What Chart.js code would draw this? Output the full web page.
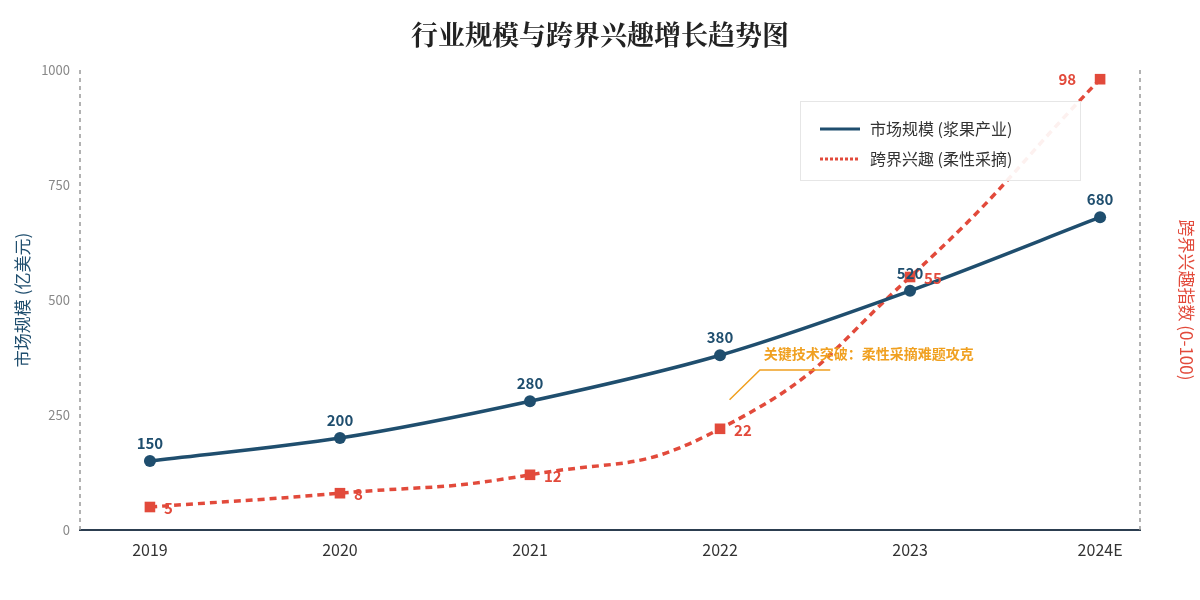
<!DOCTYPE html>
<html>
<head>
<meta charset="utf-8">
<script src="https://cdn.jsdelivr.net/npm/chart.js@4"></script>
<style>
  html, body { margin: 0; padding: 0; background: #fff; }
  #wrap { width: 1200px; height: 600px; }
</style>
</head>
<body>
<div id="wrap"><canvas id="chart" width="1200" height="600"></canvas></div>
<script>
var years = ["2019", "2020", "2021", "2022", "2023", "2024E"];
var marketSize = [150, 200, 280, 380, 520, 680];
var crossInterest = [5, 8, 12, 22, 55, 98];
var leftTicks = [0, 250, 500, 750, 1000];

var BLUE = "#1f4e6e";
var RED = "#e24a3b";
var ORANGE = "#f0a020";
var CJK = "'Noto Sans CJK SC', 'Noto Sans', sans-serif";

function toPoints(values) {
  return values.map(function (v, i) {
    return { x: i, y: v };
  });
}

// dashed vertical axis lines on left and right
var sideAxes = {
  id: "sideAxes",
  beforeDatasetsDraw: function (chart) {
    var ctx = chart.ctx, a = chart.chartArea;
    ctx.save();
    ctx.strokeStyle = "#999";
    ctx.lineWidth = 1.5;
    ctx.setLineDash([4, 4]);
    [a.left, a.right].forEach(function (x) {
      ctx.beginPath();
      ctx.moveTo(x, a.top);
      ctx.lineTo(x, a.bottom);
      ctx.stroke();
    });
    ctx.restore();
  }
};

// value labels, callout and legend
var overlays = {
  id: "overlays",
  afterDatasetsDraw: function (chart) {
    var ctx = chart.ctx;
    var xs = chart.scales.x, ys = chart.scales.y;
    ctx.save();
    ctx.font = "bold 15px " + CJK;
    ctx.textBaseline = "middle";

    ctx.fillStyle = BLUE;
    ctx.textAlign = "center";
    chart.getDatasetMeta(0).data.forEach(function (p, i) {
      ctx.fillText(String(marketSize[i]), p.x, p.y - 18);
    });

    ctx.fillStyle = RED;
    var redMeta = chart.getDatasetMeta(1).data;
    redMeta.forEach(function (p, i) {
      if (i === redMeta.length - 1) {
        ctx.textAlign = "right";
        ctx.fillText(String(crossInterest[i]), p.x - 24, p.y);
      } else {
        ctx.textAlign = "left";
        ctx.fillText(String(crossInterest[i]), p.x + 14, p.y + 1);
      }
    });

    // callout
    ctx.strokeStyle = ORANGE;
    ctx.lineWidth = 1.5;
    ctx.beginPath();
    ctx.moveTo(xs.getPixelForValue(3.05), ys.getPixelForValue(283));
    ctx.lineTo(xs.getPixelForValue(3.21), ys.getPixelForValue(348));
    ctx.lineTo(xs.getPixelForValue(3.58), ys.getPixelForValue(348));
    ctx.stroke();
    ctx.fillStyle = ORANGE;
    ctx.textAlign = "left";
    ctx.font = "bold 14px " + CJK;
    ctx.fillText("关键技术突破：柔性采摘难题攻克", xs.getPixelForValue(3.23), ys.getPixelForValue(383));

    // legend box
    var lx = 800, ly = 101, lw = 280, lh = 79;
    ctx.fillStyle = "rgba(255,255,255,0.92)";
    ctx.fillRect(lx, ly, lw, lh);
    ctx.strokeStyle = "#e6e6e6";
    ctx.lineWidth = 1;
    ctx.strokeRect(lx + 0.5, ly + 0.5, lw, lh);

    ctx.lineWidth = 3;
    ctx.strokeStyle = BLUE;
    ctx.beginPath();
    ctx.moveTo(820, 129);
    ctx.lineTo(860, 129);
    ctx.stroke();
    ctx.strokeStyle = RED;
    ctx.setLineDash([3, 2]);
    ctx.beginPath();
    ctx.moveTo(820, 159);
    ctx.lineTo(860, 159);
    ctx.stroke();
    ctx.setLineDash([]);

    ctx.fillStyle = "#333";
    ctx.font = "16px " + CJK;
    ctx.fillText("市场规模 (浆果产业)", 870, 129);
    ctx.fillText("跨界兴趣 (柔性采摘)", 870, 159);
    ctx.restore();
  }
};

var ctx = document.getElementById("chart");
var myChart = new Chart(ctx, {
  type: "line",
  data: {
    datasets: [
      {
        label: "市场规模 (浆果产业)",
        data: toPoints(marketSize),
        yAxisID: "y",
        borderColor: BLUE,
        backgroundColor: BLUE,
        borderWidth: 3.5,
        tension: 0.3,
        pointStyle: "circle",
        pointRadius: 6,
        pointBorderWidth: 0
      },
      {
        label: "跨界兴趣 (柔性采摘)",
        data: toPoints(crossInterest),
        yAxisID: "y1",
        borderColor: RED,
        backgroundColor: RED,
        borderWidth: 3.5,
        borderDash: [7, 5],
        tension: 0.5,
        pointStyle: "rect",
        pointRadius: 7.5,
        pointBorderWidth: 0
      }
    ]
  },
  options: {
    responsive: false,
    animation: false,
    layout: { padding: 0 },
    plugins: {
      legend: { display: false },
      tooltip: { enabled: false },
      title: {
        display: true,
        text: "行业规模与跨界兴趣增长趋势图",
        color: "#222",
        font: { family: "'Noto Serif CJK SC', " + CJK, size: 27, weight: "bold" },
        padding: { top: 19, bottom: 18.6 }
      }
    },
    scales: {
      x: {
        type: "linear",
        min: -0.368,
        max: 5.21,
        afterBuildTicks: function (scale) {
          scale.ticks = years.map(function (y, i) { return { value: i }; });
        },
        ticks: {
          color: "#333",
          font: { family: CJK, size: 16 },
          padding: 10,
          callback: function (v) { return years[v]; }
        },
        grid: { display: false, drawTicks: false },
        border: { display: true, color: "#2c3e50", width: 2 },
        afterFit: function (scale) { scale.height = 70; }
      },
      y: {
        position: "left",
        min: 0,
        max: 1000,
        afterBuildTicks: function (scale) {
          scale.ticks = leftTicks.map(function (v) { return { value: v }; });
        },
        ticks: {
          color: "#888",
          font: { family: CJK, size: 13 },
          padding: 10,
          callback: function (v) { return String(v); }
        },
        grid: { display: false, drawTicks: false },
        border: { display: false },
        title: {
          display: true,
          text: "市场规模 (亿美元)",
          color: BLUE,
          font: { family: CJK, size: 17 },
          padding: { top: 12, bottom: 0 }
        },
        afterFit: function (scale) { scale.width = 80; }
      },
      y1: {
        position: "right",
        min: 0,
        max: 100,
        ticks: { display: false },
        grid: { display: false, drawTicks: false },
        border: { display: false },
        title: {
          display: true,
          text: "跨界兴趣指数 (0-100)",
          color: RED,
          font: { family: CJK, size: 17 },
          padding: { top: 3, bottom: 0 }
        },
        afterFit: function (scale) { scale.width = 60; }
      }
    }
  },
  plugins: [sideAxes, overlays]
});
</script>
</body>
</html>
